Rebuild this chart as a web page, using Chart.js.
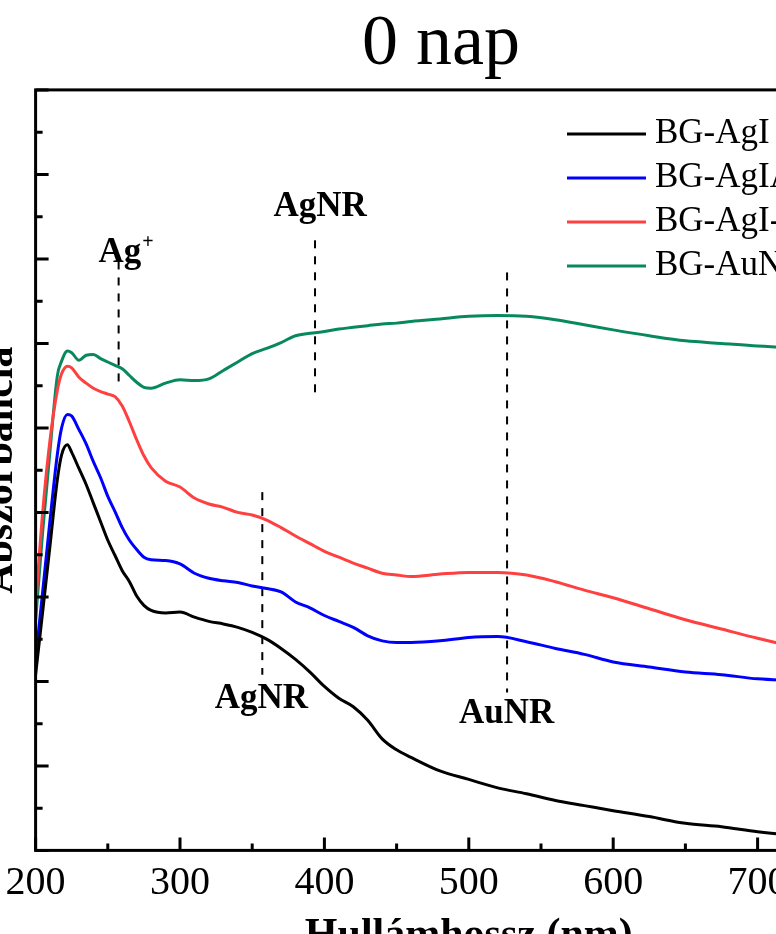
<!DOCTYPE html>
<html>
<head>
<meta charset="utf-8">
<script src="https://cdn.jsdelivr.net/npm/chart.js@4/dist/chart.umd.min.js"></script>
<style>
  html, body { margin: 0; padding: 0; overflow: hidden; background: #fff; }
  #spectra { position: absolute; left: -20px; top: 0; }
</style>
</head>
<body>
<canvas id="spectra" width="922" height="957"></canvas>
<script>
'use strict';
// ─────────────────────────────────────────────
//  UV-VIS SPECTRA  (0 nap)
// ─────────────────────────────────────────────

const WAVELENGTHS = [
  200, 205, 210, 215, 218, 222, 225, 230, 235, 240, 245, 250, 255, 260, 265, 270, 275, 280,
  290, 300, 310, 320, 330, 340, 350, 360, 370, 380, 390, 400, 410, 420, 430, 440, 450, 460,
  480, 500, 520, 540, 560, 580, 600, 625, 650, 675, 700, 750, 800,
];

const BG_AGI = [
  0.208, 0.284, 0.361, 0.438, 0.468, 0.480, 0.471, 0.452, 0.433, 0.411, 0.389, 0.367, 0.349, 0.331, 0.318, 0.301, 0.290, 0.284,
  0.281, 0.282, 0.276, 0.271, 0.268, 0.264, 0.258, 0.250, 0.239, 0.226, 0.211, 0.194, 0.180, 0.170, 0.154, 0.132, 0.119, 0.110,
  0.094, 0.084, 0.074, 0.067, 0.059, 0.053, 0.047, 0.040, 0.032, 0.028, 0.022, 0.014, 0.008,
];

const BG_AGI_AUI = [
  0.226, 0.308, 0.391, 0.468, 0.500, 0.516, 0.514, 0.498, 0.481, 0.460, 0.441, 0.419, 0.401, 0.382, 0.367, 0.356, 0.347, 0.344,
  0.343, 0.339, 0.328, 0.322, 0.319, 0.317, 0.313, 0.310, 0.306, 0.294, 0.287, 0.278, 0.271, 0.264, 0.254, 0.248, 0.246, 0.246,
  0.248, 0.252, 0.253, 0.247, 0.239, 0.232, 0.223, 0.217, 0.211, 0.208, 0.203, 0.200, 0.198,
];

const BG_AGI_DASH_AUI = [
  0.290, 0.402, 0.486, 0.544, 0.564, 0.573, 0.571, 0.560, 0.553, 0.547, 0.543, 0.540, 0.537, 0.526, 0.507, 0.486, 0.467, 0.453,
  0.437, 0.430, 0.417, 0.410, 0.406, 0.400, 0.397, 0.391, 0.382, 0.372, 0.363, 0.354, 0.347, 0.340, 0.334, 0.328, 0.326, 0.324,
  0.327, 0.329, 0.329, 0.326, 0.318, 0.308, 0.299, 0.286, 0.273, 0.262, 0.251, 0.231, 0.213,
];

const BG_AUNR = [
  0.272, 0.379, 0.473, 0.561, 0.579, 0.591, 0.589, 0.580, 0.586, 0.587, 0.582, 0.578, 0.574, 0.570, 0.562, 0.554, 0.548, 0.547,
  0.553, 0.557, 0.556, 0.558, 0.568, 0.578, 0.588, 0.594, 0.601, 0.609, 0.612, 0.614, 0.617, 0.619, 0.621, 0.623, 0.624, 0.626,
  0.629, 0.632, 0.633, 0.632, 0.628, 0.622, 0.616, 0.609, 0.603, 0.600, 0.597, 0.593, 0.590,
];

const SERIES_LABELS = ['BG-AgI', 'BG-AgIAuI', 'BG-AgI-AuI', 'BG-AuNR'];
const SERIES_COLORS = ['#000000', '#0000ff', '#ff4040', '#07895c'];
const SERIES_VALUES = [BG_AGI, BG_AGI_AUI, BG_AGI_DASH_AUI, BG_AUNR];

// dashed marker lines and their labels
const MARK_TEXT = ['Ag', 'AgNR', 'AgNR', 'AuNR'];
const MARK_SUP = ['+', '', '', ''];
const MARK_NM = [257.5, 393.5, 357, 526.5];
const MARK_TOP = [0.697, 0.722, 0.424, 0.684];
const MARK_BOTTOM = [0.551, 0.539, 0.208, 0.187];
const LABEL_NM = [258.4, 397, 356.4, 526.2];
const LABEL_ABS = [0.696, 0.751, 0.168, 0.151];

const X_MIN = 200, X_MAX = 800, X_STEP = 100;
const Y_MIN = 0, Y_MAX = 0.9, Y_STEP = 0.1;

const SERIF = "'Liberation Serif', 'Times New Roman', serif";

const toPoints = vals => WAVELENGTHS.map((x, i) => ({ x, y: vals[i] }));

const datasets = SERIES_LABELS.map((label, i) => ({
  label,
  data: toPoints(SERIES_VALUES[i]),
  borderColor: SERIES_COLORS[i],
  backgroundColor: 'transparent',
  borderWidth: 3,
  pointRadius: 0,
  cubicInterpolationMode: 'monotone',
}));

MARK_NM.forEach((nm, i) => {
  datasets.push({
    label: 'mark-' + i,
    data: [{ x: nm, y: MARK_TOP[i] }, { x: nm, y: MARK_BOTTOM[i] }],
    borderColor: '#000',
    borderWidth: 2,
    borderDash: [8, 8],
    pointRadius: 0,
  });
});

// inward ticks + closed frame
const frameTicks = {
  id: 'frameTicks',
  afterDatasetsDraw(chart) {
    const { ctx, chartArea: a, scales: { x, y } } = chart;
    ctx.save();
    ctx.strokeStyle = '#000';
    ctx.lineWidth = 3;
    ctx.beginPath();
    x.ticks.forEach((t, i) => {
      const px = x.getPixelForValue(t.value);
      ctx.moveTo(px, a.bottom); ctx.lineTo(px, a.bottom - 13);
      if (i < x.ticks.length - 1) {
        const m = x.getPixelForValue(t.value + X_STEP / 2);
        ctx.moveTo(m, a.bottom); ctx.lineTo(m, a.bottom - 7);
      }
    });
    y.ticks.forEach((t, i) => {
      const py = y.getPixelForValue(t.value);
      ctx.moveTo(a.left, py); ctx.lineTo(a.left + 13, py);
      if (i < y.ticks.length - 1) {
        const m = y.getPixelForValue(t.value + Y_STEP / 2);
        ctx.moveTo(a.left, m); ctx.lineTo(a.left + 7, m);
      }
    });
    ctx.stroke();
    ctx.strokeRect(a.left, a.top, a.width, a.height);
    ctx.restore();
  },
};

// peak labels
const markLabels = {
  id: 'markLabels',
  afterDatasetsDraw(chart) {
    const { ctx, scales: { x, y } } = chart;
    ctx.save();
    ctx.fillStyle = '#000';
    ctx.textBaseline = 'alphabetic';
    MARK_TEXT.forEach((txt, i) => {
      const px = x.getPixelForValue(LABEL_NM[i]);
      const py = y.getPixelForValue(LABEL_ABS[i]);
      ctx.font = 'bold 35px ' + SERIF;
      ctx.textAlign = 'center';
      ctx.fillText(txt, px, py);
      if (MARK_SUP[i]) {
        const w = ctx.measureText(txt).width;
        ctx.font = 'bold 20px ' + SERIF;
        ctx.textAlign = 'left';
        ctx.fillText(MARK_SUP[i], px + w / 2 + 1, py - 14);
      }
    });
    ctx.restore();
  },
};

// legend in the upper right corner
const cornerLegend = {
  id: 'cornerLegend',
  afterDatasetsDraw(chart) {
    const { ctx } = chart;
    ctx.save();
    ctx.font = '35px ' + SERIF;
    ctx.textBaseline = 'middle';
    ctx.textAlign = 'left';
    SERIES_LABELS.forEach((label, i) => {
      const yy = 134 + i * 44;
      ctx.strokeStyle = SERIES_COLORS[i];
      ctx.lineWidth = 3;
      ctx.beginPath();
      ctx.moveTo(587, yy); ctx.lineTo(666, yy);
      ctx.stroke();
      ctx.fillStyle = '#000';
      ctx.fillText(label, 675, yy);
    });
    ctx.restore();
  },
};

Chart.defaults.color = '#000';

new Chart(document.getElementById('spectra'), {
  type: 'line',
  data: { datasets },
  options: {
    responsive: false,
    animation: false,
    layout: { padding: 0 },
    plugins: {
      legend: { display: false },
      tooltip: { enabled: false },
      title: {
        display: true,
        text: '0 nap',
        color: '#000',
        font: { family: SERIF, size: 72, weight: 'normal', lineHeight: 1.2 },
        padding: { top: 1.5, bottom: 2 },
      },
    },
    scales: {
      x: {
        type: 'linear',
        min: X_MIN,
        max: X_MAX,
        grid: { display: false, drawTicks: false },
        border: { display: false },
        ticks: {
          stepSize: X_STEP,
          padding: 0,
          maxRotation: 0,
          font: { family: SERIF, size: 40, lineHeight: 1.65 },
          callback: v => (v === X_MAX ? '' : v),
        },
        title: {
          display: true,
          text: 'Hullámhossz (nm)',
          font: { family: SERIF, size: 42, weight: 'bold', lineHeight: 1.0 },
          padding: { top: -1.4, bottom: 0 },
        },
      },
      y: {
        min: Y_MIN,
        max: Y_MAX,
        grid: { display: false, drawTicks: false },
        border: { display: false },
        ticks: { stepSize: Y_STEP, display: false },
        title: {
          display: true,
          text: 'Abszorbancia',
          font: { family: SERIF, size: 42, weight: 'bold', lineHeight: 1.0 },
          padding: { top: 0, bottom: 13.6 },
        },
      },
    },
  },
  plugins: [frameTicks, markLabels, cornerLegend],
});
</script>
</body>
</html>
